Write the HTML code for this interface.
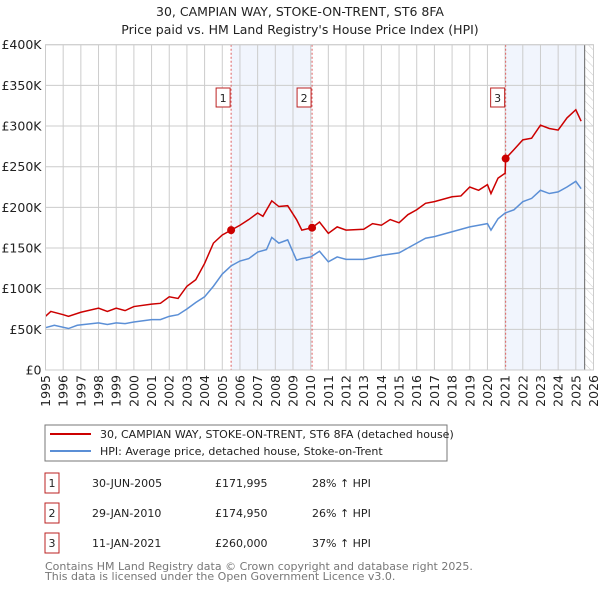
<!DOCTYPE html>
<html><head><meta charset="utf-8"><style>
body{margin:0;background:#fff;font-family:"Liberation Sans","DejaVu Sans",sans-serif;}
svg text{font-family:"DejaVu Sans","Liberation Sans",sans-serif;}
</style></head><body>
<svg id="c" width="600" height="590" xmlns="http://www.w3.org/2000/svg">
<defs><pattern id="hatch" width="6" height="6" patternUnits="userSpaceOnUse" patternTransform="rotate(-45)"><line x1="0" y1="0" x2="0" y2="6" stroke="#ccc" stroke-width="1"/></pattern></defs>
<text x="300" y="16" text-anchor="middle" font-size="12.5" fill="#222">30, CAMPIAN WAY, STOKE-ON-TRENT, ST6 8FA</text>
<text x="300" y="34" text-anchor="middle" font-size="12.5" fill="#222">Price paid vs. HM Land Registry's House Price Index (HPI)</text>
<g id="plot"></g>
<rect x="45" y="425" width="402" height="36" fill="#fff" stroke="#777"/>
<line x1="50" y1="434" x2="91" y2="434" stroke="#cc0000" stroke-width="2"/>
<text x="100" y="438" font-size="11" fill="#222">30, CAMPIAN WAY, STOKE-ON-TRENT, ST6 8FA (detached house)</text>
<line x1="50" y1="451" x2="91" y2="451" stroke="#5b8fd6" stroke-width="2"/>
<text x="100" y="455" font-size="11" fill="#222">HPI: Average price, detached house, Stoke-on-Trent</text>
<g id="table" font-size="11" fill="#222"></g>
<text x="45" y="570" font-size="11" fill="#777">Contains HM Land Registry data © Crown copyright and database right 2025.</text>
<text x="45" y="580" font-size="11" fill="#777">This data is licensed under the Open Government Licence v3.0.</text>
</svg>
<script>
const hpiYears=[1995,1995.5,1996.3,1996.8,1998,1998.5,1999,1999.5,2000,2001,2001.5,2002,2002.5,2003,2003.5,2004,2004.5,2005,2005.5,2006,2006.5,2007,2007.5,2007.8,2008.2,2008.7,2009.2,2009.5,2010,2010.5,2011,2011.5,2012,2013,2014,2015,2015.5,2016,2016.5,2017,2018,2019,2019.5,2020,2020.2,2020.6,2021,2021.5,2022,2022.5,2023,2023.5,2024,2024.5,2025,2025.3];
const hpiValues=[52,55,51,55,58,56,58,57,59,62,62,66,68,75,83,90,103,118,128,134,137,145,148,163,156,160,135,137,139,146,133,139,136,136,141,144,150,156,162,164,170,176,178,180,172,186,193,197,207,211,221,217,219,225,232,223];
const priceYears=[1995,1995.3,1996,1996.3,1997,1998,1998.5,1999,1999.5,2000,2001,2001.5,2002,2002.5,2003,2003.5,2004,2004.5,2005,2005.5,2006,2006.5,2007,2007.3,2007.8,2008.2,2008.7,2009.2,2009.5,2010.08,2010.5,2011,2011.5,2012,2013,2013.5,2014,2014.5,2015,2015.5,2016,2016.5,2017,2018,2018.5,2019,2019.5,2020,2020.2,2020.6,2021,2021.03,2021.5,2022,2022.5,2023,2023.5,2024,2024.5,2025,2025.3];
const priceValues=[66,72,68,66,71,76,72,76,73,78,81,82,90,88,103,111,131,156,166,172,178,185,193,189,208,201,202,185,172,175,182,168,176,172,173,180,178,185,181,191,197,205,207,213,214,225,221,228,217,236,242,260,271,283,285,301,297,295,310,320,306];
const saleLabels=["1","2","3"];
const saleYears=[2005.5,2010.08,2021.03];
const saleValues=[171.995,174.95,260];
const saleDates=["30-JUN-2005","29-JAN-2010","11-JAN-2021"];
const salePrices=["£171,995","£174,950","£260,000"];
const saleDiffs=["28% ↑ HPI","26% ↑ HPI","37% ↑ HPI"];
const yTicks=[0,50,100,150,200,250,300,350,400];
const yTickLabels=["£0","£50K","£100K","£150K","£200K","£250K","£300K","£350K","£400K"];
const xTicks=[1995,1996,1997,1998,1999,2000,2001,2002,2003,2004,2005,2006,2007,2008,2009,2010,2011,2012,2013,2014,2015,2016,2017,2018,2019,2020,2021,2022,2023,2024,2025,2026];
const X0=45.5,X1=593.5,Y0=370,Y1=44.7;
const x=v=>X0+(v-1995)/31*(X1-X0);
const y=v=>Y0-v/400*(Y0-Y1);
const NS="http://www.w3.org/2000/svg";
const g=document.getElementById('plot');
function mk(tag,attrs,parent){const e=document.createElementNS(NS,tag);for(const k in attrs)e.setAttribute(k,attrs[k]);(parent||g).appendChild(e);return e;}
let e;
e=mk('rect',{x:x(saleYears[0]),y:Y1,width:x(saleYears[1])-x(saleYears[0]),height:Y0-Y1,fill:'#eef3fc',opacity:0.8});


e=mk('rect',{x:x(saleYears[2]),y:Y1,width:x(2025.5)-x(saleYears[2]),height:Y0-Y1,fill:'#eef3fc',opacity:0.8});


e=mk('rect',{x:x(2025.5),y:Y1,width:X1-x(2025.5),height:Y0-Y1,fill:'url(#hatch)'});


yTicks.forEach((t,i)=>{
 e=mk('line',{x1:X0,x2:X1,y1:y(t),y2:y(t),stroke:'#ccc','stroke-width':1});
 
 
 e=mk('text',{x:X0-4,y:y(t)+4.5,'text-anchor':'end','font-size':12.5,fill:'#222'});e.textContent=yTickLabels[i];
 
 
});
xTicks.forEach(t=>{
 e=mk('line',{x1:x(t),x2:x(t),y1:Y1,y2:Y0,stroke:'#ccc','stroke-width':1});
 
 
 e=mk('text',{x:0,y:0,'text-anchor':'end','font-size':12.5,fill:'#222',transform:`translate(${x(t)+4.5},${Y0+5}) rotate(-90)`});e.textContent=t;
 
 
});
e=mk('line',{x1:x(2025.5),x2:x(2025.5),y1:Y1,y2:Y0,stroke:'#666','stroke-width':1});


saleYears.forEach((s,i)=>{
 e=mk('line',{x1:x(s),x2:x(s),y1:Y1,y2:Y0,stroke:'#e06060','stroke-width':1,'stroke-dasharray':'2,2'});
 
 
});
e=mk('polyline',{points:hpiYears.map((v,i)=>x(v)+','+y(hpiValues[i])).join(' '),fill:'none',stroke:'#5b8fd6','stroke-width':1.5});


e=mk('polyline',{points:priceYears.map((v,i)=>x(v)+','+y(priceValues[i])).join(' '),fill:'none',stroke:'#cc0000','stroke-width':1.5});


saleYears.forEach((s,i)=>{
 e=mk('circle',{cx:x(s),cy:y(saleValues[i]),r:4,fill:'#cc0000'});
 
 
 e=mk('rect',{x:x(s)-15,y:88,width:14,height:19,fill:'#fff',stroke:'#b22'});
 
 
 e=mk('text',{x:x(s)-8,y:102,'text-anchor':'middle','font-size':11,fill:'#222'});e.textContent=saleLabels[i];
 
 
});
e=mk('rect',{x:X0,y:Y1,width:X1-X0,height:Y0-Y1,fill:'none',stroke:'#ccc'});


const tb=document.getElementById('table');
saleLabels.forEach((l,i)=>{
 const cy=483+i*30;
 e=mk('rect',{x:45,y:cy-10,width:14,height:20,fill:'#fff',stroke:'#b22'},tb);
 
 
 e=mk('text',{x:52,y:cy+4,'text-anchor':'middle'},tb);e.textContent=l;
 
 
 e=mk('text',{x:92,y:cy+4},tb);e.textContent=saleDates[i];
 
 
 e=mk('text',{x:215,y:cy+4},tb);e.textContent=salePrices[i];
 
 
 e=mk('text',{x:312,y:cy+4},tb);e.textContent=saleDiffs[i];
 
 
});
</script>
</body></html>
